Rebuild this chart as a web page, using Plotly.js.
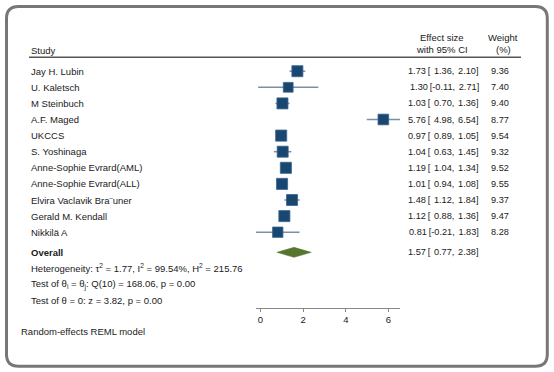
<!DOCTYPE html>
<html>
<head>
<meta charset="utf-8">
<script src="https://cdn.plot.ly/plotly-3.0.1.min.js"></script>
<style>
html,body{margin:0;padding:0;background:#fff;}
#chart{width:554px;height:372px;}
</style>
</head>
<body>
<div id="chart"></div>
<script>
// ---- data ----
const studies = ["Jay H. Lubin", "U. Kaletsch", "M Steinbuch", "A.F. Maged", "UKCCS", "S. Yoshinaga",
  "Anne-Sophie Evrard(AML)", "Anne-Sophie Evrard(ALL)", "Elvira Vaclavik Bra\u00A8uner", "Gerald M. Kendall", "Nikkil\u00E4 A"];
const effect = [1.73, 1.30, 1.03, 5.76, 0.97, 1.04, 1.19, 1.01, 1.48, 1.12, 0.81];
const ciLow  = [1.36, -0.11, 0.70, 4.98, 0.89, 0.63, 1.04, 0.94, 1.12, 0.88, -0.21];
const ciHigh = [2.10, 2.71, 1.36, 6.54, 1.05, 1.45, 1.34, 1.08, 1.84, 1.36, 1.83];
const weight = [9.36, 7.40, 9.40, 8.77, 9.54, 9.32, 9.52, 9.55, 9.37, 9.47, 8.28];
const overallEffect = 1.57, overallLow = 0.77, overallHigh = 2.38;
const xTicks = [0, 2, 4, 6];
const heterogeneityText = "Heterogeneity: \u03C4<sup>2</sup> = 1.77, I<sup>2</sup> = 99.54%, H<sup>2</sup> = 215.76";
const testDiffText = "Test of \u03B8<sub>i</sub> = \u03B8<sub>j</sub>: Q(10) = 168.06, p = 0.00";
const testZeroText = "Test of \u03B8 = 0: z = 3.82, p = 0.00";
const modelText = "Random-effects REML model";

// ---- layout helpers ----
const W = 554, H = 372;
const px = x => x / W;
const py = y => 1 - y / H;
const FONT = "Liberation Sans, Arial, sans-serif";
const FS = 9.5, FSN = 9.2;
const TXT = "#1a1a1a";
const n = studies.length;
const rowTop = 71.2, rowStep = 16.1, axisY = 308;
const overallRow = n + 0.25;
const SP = "\u2009";

function f2(v){ const s = v.toFixed(2); return v >= 0 ? SP + SP + s : s; }
function ciText(e, lo, hi){ return e.toFixed(2) + SP + "[" + f2(lo) + "," + SP + f2(hi).replace(/^\u2009\u2009/, SP) + "]"; }

// CI lines
const ciX = [], ciY = [];
for (let i = 0; i < n; i++) { ciX.push(ciLow[i], ciHigh[i], null); ciY.push(i, i, null); }

const traces = [
  { x: ciX, y: ciY, mode: "lines", line: { color: "#7891a9", width: 1.5 }, hoverinfo: "skip", showlegend: false },
  { x: effect, y: studies.map((s, i) => i), mode: "markers",
    marker: { symbol: "square", size: weight.map(w => 3.6 * Math.sqrt(w)), color: "#1a476f", opacity: 1,
              line: { color: "#3a6690", width: 0.8 } },
    text: studies, showlegend: false },
  { x: [overallLow, overallEffect, overallHigh, overallEffect, overallLow],
    y: [overallRow, overallRow - 0.31, overallRow, overallRow + 0.31, overallRow],
    mode: "lines", fill: "toself", fillcolor: "#56752e", line: { color: "#56752e", width: 0.5 },
    showlegend: false }
];

const ann = [];
function add(text, x, y, xanchor, yref, size) {
  ann.push({ text: text, x: x, y: y, xref: "paper", yref: yref || "paper",
    xanchor: xanchor, yanchor: "middle", showarrow: false,
    font: { family: FONT, size: size || FS, color: TXT } });
}
for (let i = 0; i < n; i++) {
  add(studies[i], px(29), i, "left", "y");
  add(ciText(effect[i], ciLow[i], ciHigh[i]), px(481), i, "right", "y", FSN);
  add(weight[i].toFixed(2), px(511), i, "right", "y", FSN);
}
add("<b>Overall</b>", px(29), overallRow, "left", "y");
add(ciText(overallEffect, overallLow, overallHigh), px(481), overallRow, "right", "y", FSN);
add(heterogeneityText, px(29), py(268.3), "left");
add(testDiffText, px(29), py(284.5), "left");
add(testZeroText, px(29), py(300.5), "left");
add(modelText, px(19), py(331), "left");
add("Study", px(29), py(50), "left");
add("Effect size", px(442), py(37), "center");
add("with 95% CI", px(442), py(49.5), "center");
add("Weight", px(503), py(37), "center");
add("(%)", px(503), py(49.5), "center");

// frame path (rounded rectangle) in paper coords
const L = 6.5, R = 547.3, T = 6.5, B = 366.3, r = 12;
const framePath =
  `M ${px(L + r)},${py(T)} L ${px(R - r)},${py(T)} Q ${px(R)},${py(T)} ${px(R)},${py(T + r)} ` +
  `L ${px(R)},${py(B - r)} Q ${px(R)},${py(B)} ${px(R - r)},${py(B)} ` +
  `L ${px(L + r)},${py(B)} Q ${px(L)},${py(B)} ${px(L)},${py(B - r)} ` +
  `L ${px(L)},${py(T + r)} Q ${px(L)},${py(T)} ${px(L + r)},${py(T)} Z`;

const layout = {
  width: W, height: H,
  margin: { l: 0, r: 0, t: 0, b: 0, pad: 0 },
  paper_bgcolor: "#ffffff", plot_bgcolor: "#ffffff",
  showlegend: false,
  font: { family: FONT, size: FS, color: TXT },
  xaxis: {
    domain: [px(256), px(400)], range: [-0.21, 6.54],
    tickvals: xTicks, ticktext: xTicks.map(String),
    ticks: "outside", ticklen: 3, tickwidth: 1, tickcolor: "#888",
    showline: true, linecolor: "#888", linewidth: 1,
    showgrid: false, zeroline: false, fixedrange: true,
    tickfont: { family: FONT, size: FS, color: TXT }
  },
  yaxis: {
    domain: [py(axisY), 1],
    range: [(axisY - rowTop) / rowStep, (0 - rowTop) / rowStep],
    visible: false, showgrid: false, zeroline: false, fixedrange: true
  },
  shapes: [
    { type: "line", xref: "paper", yref: "paper", x0: px(29), x1: px(521), y0: py(57.3), y1: py(57.3),
      line: { color: "#555", width: 1.4 } },
    { type: "path", xref: "paper", yref: "paper", path: framePath,
      line: { color: "#777", width: 3 }, fillcolor: "rgba(0,0,0,0)" }
  ],
  annotations: ann
};

Plotly.newPlot("chart", traces, layout, { displayModeBar: false, staticPlot: true });
</script>
</body>
</html>
